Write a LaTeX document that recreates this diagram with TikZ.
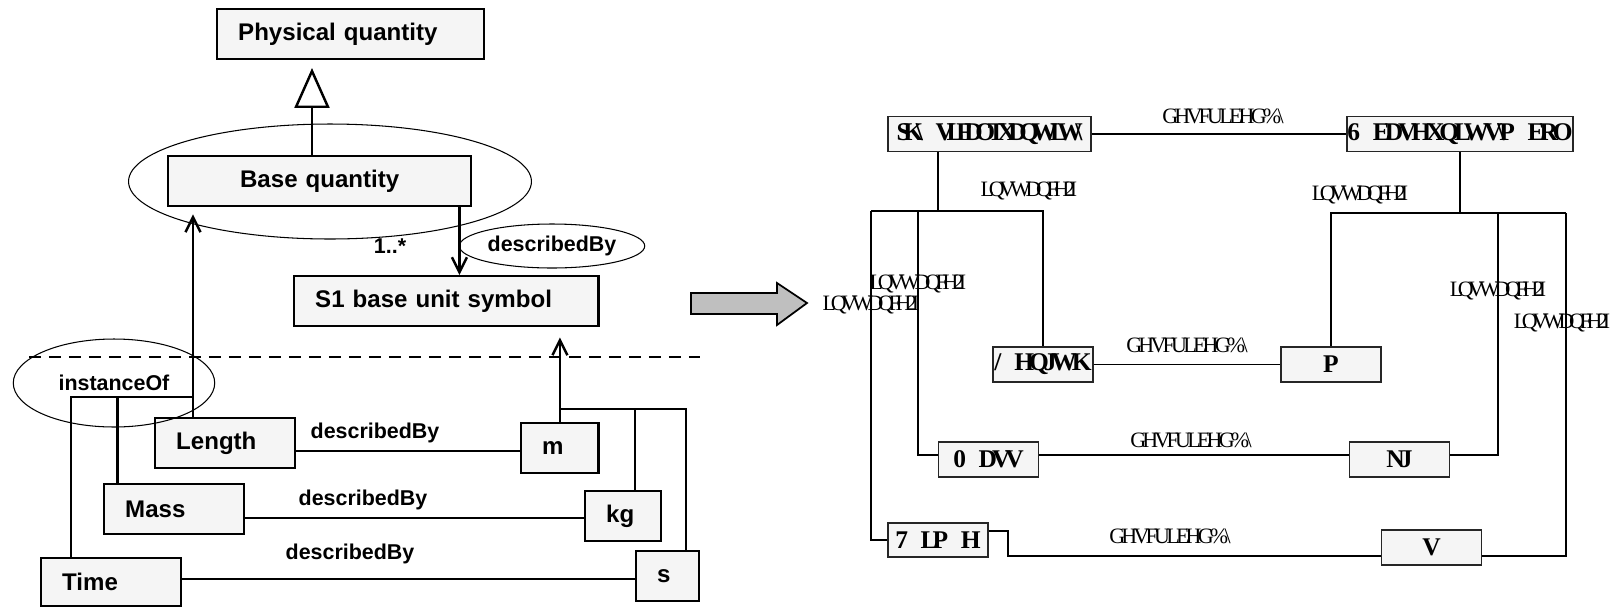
\documentclass[tikz,border=0pt]{standalone}
\usepackage{fontspec}
\setsansfont{Liberation Sans}
\newfontfamily\rboxfont{Liberation Serif}[LetterSpace=-20]
\newfontfamily\rtightfont{Liberation Serif}[LetterSpace=-29]
\newfontfamily\rlabfont{Liberation Serif}[LetterSpace=-24]
\newfontfamily\rdbfont{Liberation Serif}[LetterSpace=-17]
\usetikzlibrary{positioning,arrows.meta,shapes.geometric}
\tikzstyle{lbox}=[rectangle, draw=black, line width=1.4pt, fill=black!4, inner xsep=0.42cm,
                  inner ysep=0pt, minimum height=1cm, align=left, anchor=north west,
                  font=\sffamily\bfseries\fontsize{13.7}{16}\selectfont]
\tikzstyle{ltxt}=[inner sep=0pt, font=\sffamily\bfseries\fontsize{12.2}{14}\selectfont]
\tikzstyle{ring}=[ellipse, draw=black, line width=0.6pt, inner sep=0pt]
\tikzstyle{lline}=[-, line width=1.4pt]
\tikzstyle{larrow}=[-{Straight Barb[length=0.3cm,width=0.3cm]}, line width=1.4pt]
\tikzstyle{genarrow}=[-{Triangle[open,length=0.8cm,width=0.7cm]}, line width=1.4pt]
\tikzstyle{sepline}=[line width=1.5pt, dash pattern=on 0.24cm off 0.16cm]
\tikzstyle{rbox}=[rectangle, draw=black!85, line width=0.8pt, fill=black!4, inner sep=0pt,
                  minimum height=0.7cm, minimum width=2cm,
                  font=\rboxfont\bfseries\fontsize{14.5}{16}\selectfont]
\tikzstyle{rtxt}=[inner sep=0pt, font=\rlabfont\fontsize{12.5}{14}\selectfont]
\tikzstyle{rdb}=[inner sep=0pt, font=\rdbfont\fontsize{12.5}{14}\selectfont]
\tikzstyle{rline}=[-, line width=0.6pt]
\begin{document}
\begin{tikzpicture}[x=0.02cm, y=-0.02cm]
\useasboundingbox (0,0) rectangle (1614,606);

% left: model
\node (BQRING) [ring, minimum width=8.06cm, minimum height=2.3cm] at (330,181.5) {};
\node (PHQ) [lbox, text width=4.5cm] at (216,8) {Physical quantity};
\node (BASEQ) [lbox, align=center, text width=5.22cm] at (167,155) {Base quantity};
\node (SIBUS) [lbox, text width=5.25cm] at (293,275) {S1 base unit symbol};
\node (LEN) [lbox, text width=1.96cm] at (154,417) {Length};
\node (MASS) [lbox, text width=1.96cm] at (103,483) {Mass};
\node (TIME) [lbox, text width=1.96cm, minimum height=0.96cm] at (40,557) {Time};
\node (UM) [lbox, text width=0.71cm] at (520,422) {m};
\node (UKG) [lbox, text width=0.68cm] at (584,490) {kg};
\node (US) [lbox, text width=0.42cm] at (635,550) {s};
\node (INSTOF) [ring, ltxt, minimum width=4.03cm, minimum height=1.76cm] at (114,383) {instanceOf};
\node (DESCBY) [ring, ltxt, minimum width=3.71cm, minimum height=0.88cm] at (552,246) {describedBy};
\node (MULT) [ltxt] at (390,246) {1..*};

\coordinate (GTIP) at (312,68);
\draw[genarrow] (BASEQ.north -| GTIP) -- (GTIP);
\coordinate (DBTOP) at ([xshift=-0.26cm]BASEQ.south east);
\draw[larrow] (DBTOP) -- (DBTOP |- SIBUS.north);

\coordinate (LENUP) at ([xshift=0.78cm]LEN.north west);
\coordinate (ISPLIT) at ([yshift=0.4cm]LENUP);
\coordinate (MASSUP) at ([xshift=0.29cm]MASS.north west);
\draw[larrow, shorten >=0.14cm] (LENUP) -- (LENUP |- BASEQ.south);
\draw[lline] ([xshift=0.62cm]TIME.north west) |- (ISPLIT);
\draw[lline] (MASSUP) -- (MASSUP |- ISPLIT);

\coordinate (USPLIT) at ([yshift=0.26cm]UM.north);
\coordinate (KGUP) at ([xshift=1.02cm]UKG.north west);
\coordinate (SUP) at ([xshift=1.02cm]US.north west);
\draw[larrow, shorten >=0.2cm] (UM.north) -- (UM.north |- SIBUS.south);
\draw[lline] (SUP) |- (USPLIT);
\draw[lline] (KGUP) -- (KGUP |- USPLIT);

\coordinate (LENR) at ([yshift=-0.16cm]LEN.east);
\coordinate (MASSR) at ([yshift=-0.17cm]MASS.east);
\coordinate (TIMER) at ([yshift=0.06cm]TIME.east);
\draw[lline] (LENR) -- (LENR -| UM.west);
\draw[lline] (MASSR) -- (MASSR -| UKG.west);
\draw[lline] (TIMER) -- (TIMER -| US.west);
\node (DB1) [ltxt] at (375,433) {describedBy};
\node (DB2) [ltxt] at (363,500) {describedBy};
\node (DB3) [ltxt] at (350,554) {describedBy};

\draw[sepline] (29,357) -- (700,357);

% arrow between the two
\draw[fill=black!25, line width=1pt] (691,293) -- (777,293) -- (777,283) -- (807,303)
  -- (777,325) -- (777,314) -- (691,314) -- cycle;

% right: same model, garbled font
\node (RPHQ) [rbox, minimum width=4.06cm] at (989.5,134) {\rtightfont SK\textbackslash\enspace VLFDOTXDQWLW\textbackslash};
\node (RSIBUS) [rbox, minimum width=4.52cm] at (1460,134) {6\enspace EDVHXQLWV\textbackslash{}P\enspace ERO};
\node (RLEN) [rbox] at (1043,364.5) {/\enspace HQJWK};
\node (RUM) [rbox] at (1331,364.5) {P};
\node (RMASS) [rbox] at (988.5,459.5) {0\enspace DVV};
\node (RUKG) [rbox] at (1399.5,459.5) {NJ};
\node (RTIME) [rbox, minimum height=0.68cm] at (938,540) {7\enspace LP\enspace H};
\node (RUS) [rbox] at (1431.5,547.5) {V};

\coordinate (LJOIN) at (938,211);
\coordinate (LTIME) at (871,211);
\coordinate (LMASS) at (918,211);
\coordinate (RJOIN) at (1460,213);
\coordinate (RKG) at (1498,213);
\coordinate (RS) at (1566,213);
\coordinate (TBEND) at (1008,556);

\draw[rline] (RPHQ) -- (RSIBUS);
\draw[rline] (RPHQ.south -| LJOIN) -- (LJOIN);
\draw[rline] (LTIME) -| (RLEN.north);
\draw[rline] (LTIME) |- (RTIME.west);
\draw[rline] (LMASS) |- ([yshift=0.09cm]RMASS.west);
\draw[rline] ([yshift=0.09cm]RMASS.east) -- ([yshift=0.09cm]RUKG.west);
\draw[rline] (RLEN) -- (RUM);
\draw[rline] ([yshift=0.18cm]RTIME.east) -| (TBEND) -- (TBEND -| RUS.west);
\draw[rline] (RSIBUS.south) -- (RJOIN);
\draw[rline] (RUM.north) |- (RS);
\draw[rline] (RKG) |- ([yshift=0.09cm]RUKG.east);
\draw[rline] (RS) |- ([yshift=-0.17cm]RUS.east);

\node (RL1) [rdb] at (1223,116) {GHVFULEHG\%\textbackslash};
\node (RL2) [rtxt] at (1029,191) {LQVWDQFH2I};
\node (RL3) [rtxt] at (1360,195) {LQVWDQFH2I};
\node (RL4) [rtxt] at (918,284) {LQVWDQFH2I};
\node (RL5) [rtxt] at (871,305) {LQVWDQFH2I};
\node (RL6) [rtxt] at (1498,291) {LQVWDQFH2I};
\node (RL7) [rtxt] at (1562,323) {LQVWDQFH2I};
\node (RL8) [rdb] at (1187,345) {GHVFULEHG\%\textbackslash};
\node (RL9) [rdb] at (1191,440) {GHVFULEHG\%\textbackslash};
\node (RL10) [rdb] at (1170,536) {GHVFULEHG\%\textbackslash};

\end{tikzpicture}
\end{document}
